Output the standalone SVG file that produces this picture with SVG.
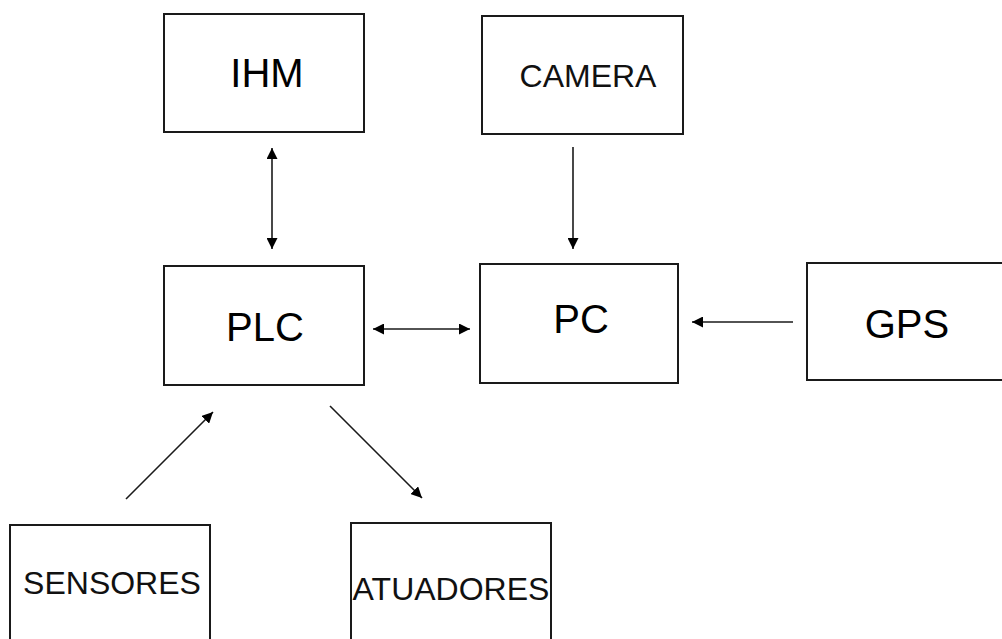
<svg xmlns="http://www.w3.org/2000/svg" width="1002" height="639" viewBox="0 0 1002 639">
<style>
.box{fill:#fff;stroke:#1a1a1a;stroke-width:2}
.big{font-family:"Liberation Sans",Arial,sans-serif;font-size:40px;fill:#000;text-anchor:middle}
.small{font-family:"Liberation Sans",Arial,sans-serif;font-size:32px;fill:#111;text-anchor:middle}
.conn line{stroke:#1a1a1a;stroke-width:1.6;fill:none}
</style>
<defs>
<marker id="ah" viewBox="0 0 10 10" refX="10" refY="5" markerWidth="11" markerHeight="11" markerUnits="userSpaceOnUse" orient="auto-start-reverse">
<path d="M0,0 L10,5 L0,10 z" fill="#000"/>
</marker>
</defs>
<rect width="1002" height="639" fill="#fff"/>
<g id="IHM"><rect class="box" x="164" y="14" width="200" height="118"/><text class="big" x="267" y="87">IHM</text></g>
<g id="CAMERA"><rect class="box" x="482" y="16" width="201" height="118"/><text class="small" x="588" y="87">CAMERA</text></g>
<g id="PLC"><rect class="box" x="164" y="266" width="200" height="119"/><text class="big" x="265" y="341">PLC</text></g>
<g id="PC"><rect class="box" x="480" y="264" width="198" height="119"/><text class="big" x="581" y="333">PC</text></g>
<g id="GPS"><rect class="box" x="807" y="263" width="210" height="117"/><text class="big" x="907" y="338">GPS</text></g>
<g id="SENSORES"><rect class="box" x="10" y="525" width="200" height="130"/><text class="small" x="112" y="594">SENSORES</text></g>
<g id="ATUADORES"><rect class="box" x="351" y="523" width="200" height="130"/><text class="small" x="451" y="600">ATUADORES</text></g>
<g id="connectors" class="conn">
<line x1="272" y1="148" x2="272" y2="249" marker-start="url(#ah)" marker-end="url(#ah)"/>
<line x1="573" y1="147" x2="573" y2="249" marker-end="url(#ah)"/>
<line x1="373" y1="329" x2="470" y2="329" marker-start="url(#ah)" marker-end="url(#ah)"/>
<line x1="793" y1="322" x2="692" y2="322" marker-end="url(#ah)"/>
<line x1="126" y1="499" x2="213" y2="412" marker-end="url(#ah)"/>
<line x1="330" y1="406" x2="422" y2="498" marker-end="url(#ah)"/>
</g>
</svg>
